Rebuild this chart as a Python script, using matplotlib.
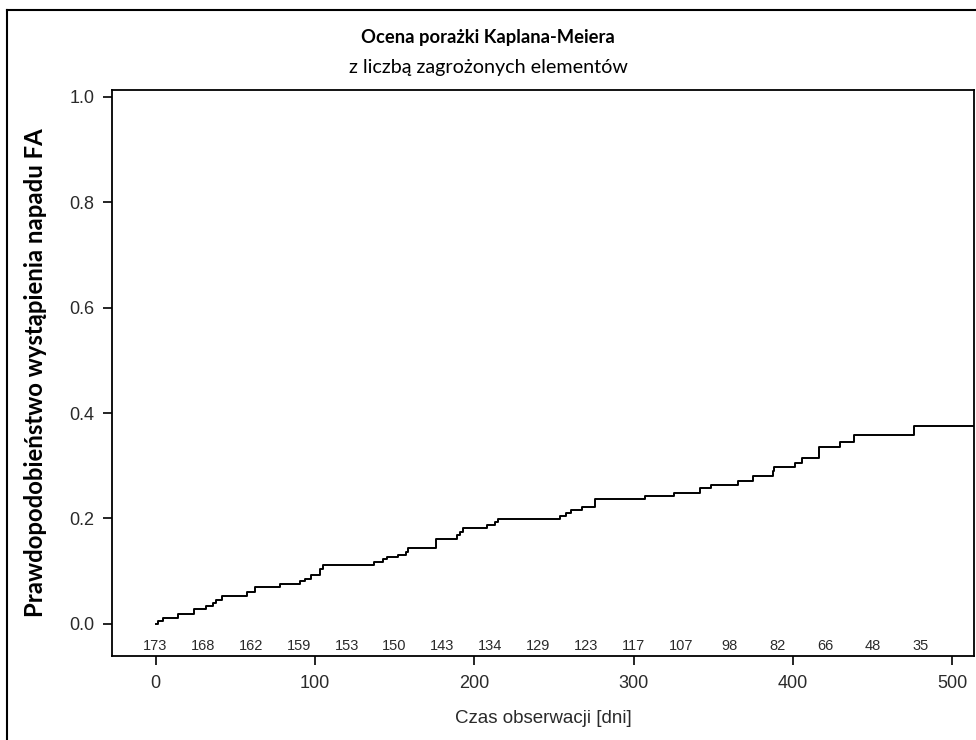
import numpy as np
import matplotlib.pyplot as plt
from matplotlib.lines import Line2D

# Kaplan-Meier failure estimate
times = [0, 1.4, 4.5, 14.3, 24.3, 31.5, 35.9, 37.8, 41.5, 57.2,
         62.6, 78.1, 90.7, 93.8, 97.6, 103.2, 105.3, 137.1, 142.9, 145.0,
         152.3, 157.0, 158.6, 175.8, 189.0, 191.0, 193.1, 207.8, 213.0, 215.1,
         253.8, 257.5, 260.7, 267.4, 275.7, 307.1, 325.3, 341.6, 348.5, 365.6,
         374.7, 387.2, 388.0, 401.2, 405.4, 416.3, 429.4, 438.4, 475.8, 520]
failure = [0, 0.006, 0.012, 0.018, 0.028, 0.034, 0.040, 0.046, 0.053, 0.061,
           0.069, 0.076, 0.081, 0.086, 0.093, 0.104, 0.111, 0.117, 0.123, 0.127,
           0.131, 0.137, 0.144, 0.161, 0.169, 0.175, 0.181, 0.187, 0.193, 0.199,
           0.205, 0.210, 0.216, 0.221, 0.237, 0.243, 0.249, 0.257, 0.264, 0.271,
           0.281, 0.290, 0.297, 0.305, 0.314, 0.335, 0.346, 0.359, 0.376, 0.376]

# number at risk
risk_times = [0, 30, 60, 90, 120, 150, 180, 210, 240, 270, 300, 330, 360, 390, 420, 450, 480]
at_risk = [173, 168, 162, 159, 153, 150, 143, 134, 129, 123, 117, 107, 98, 82, 66, 48, 35]

xticks = [0, 100, 200, 300, 400, 500]
yticks = [0.0, 0.2, 0.4, 0.6, 0.8, 1.0]

TITLE = "Ocena porażki Kaplana-Meiera"
SUBTITLE = "z liczbą zagrożonych elementów"
XLABEL = "Czas obserwacji [dni]"
YLABEL = "Prawdopodobieństwo wystąpienia napadu FA"

SANS = ["Liberation Sans", "DejaVu Sans"]
HEAD = ["Lato", "DejaVu Sans"]
GREY = "#2a2a2a"

fig = plt.figure(figsize=(9.76, 7.40), dpi=100)
ax = fig.add_axes([112 / 976, 84 / 740, 862 / 976, 566 / 740])

ax.step(times, failure, where="post", color="black", lw=1.4)

for t, n in zip(risk_times, at_risk):
    ax.text(t, -0.042, str(n), ha="center", va="center", fontsize=10.5,
            family=SANS, color=GREY)

ax.set_xlim(-27.3, 513.5)
ax.set_ylim(-0.061, 1.013)
ax.set_xticks(xticks)
ax.set_xticklabels([str(v) for v in xticks], family=SANS, fontsize=13, color=GREY)
ax.set_yticks(yticks)
ax.set_yticklabels([f"{v:.1f}" for v in yticks], family=SANS, fontsize=13, color=GREY)
ax.tick_params(axis="x", direction="out", length=6.5, width=1.2, pad=7)
ax.tick_params(axis="y", direction="out", length=6.5, width=1.2, pad=6)
for s in ax.spines.values():
    s.set_linewidth(1.3)

ax.set_xlabel(XLABEL, family=SANS, fontsize=13.5, color=GREY, labelpad=13)
ax.set_ylabel(YLABEL, family=HEAD, fontsize=17.2, fontweight="bold")
ax.yaxis.set_label_coords(-0.0754, 0.5)

fig.text(488 / 976, 1 - 38 / 740, TITLE, ha="center", va="center",
         family=HEAD, fontsize=13.2, fontweight="bold")
fig.text(488 / 976, 1 - 67 / 740, SUBTITLE, ha="center", va="center",
         family=HEAD, fontsize=14.2)

# outer frame (left and top edges visible)
fig.add_artist(Line2D([7 / 976, 7 / 976], [0, 1 - 10 / 740], transform=fig.transFigure,
                      color="black", lw=1.5))
fig.add_artist(Line2D([7 / 976, 1], [1 - 10 / 740, 1 - 10 / 740], transform=fig.transFigure,
                      color="black", lw=1.5))

fig.savefig("out.png", dpi=100)
